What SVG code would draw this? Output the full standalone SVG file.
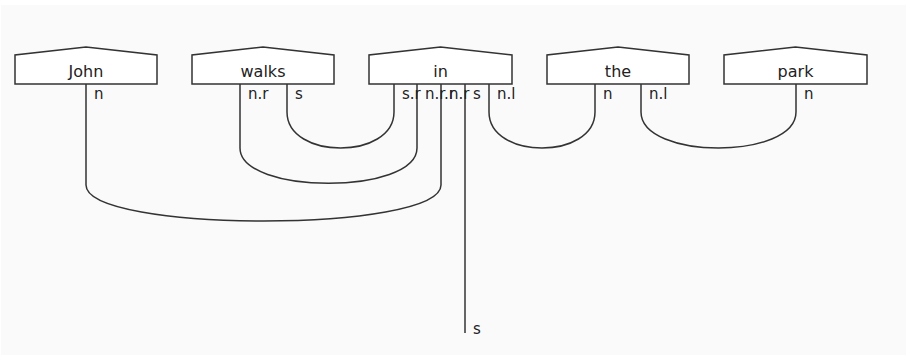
<svg xmlns="http://www.w3.org/2000/svg" width="906" height="355" viewBox="0 0 906 355">
<style>
.box{fill:#ffffff;stroke:#333;stroke-width:1.5;stroke-linejoin:miter}
.wire{fill:none;stroke:#333;stroke-width:1.5}
.name{font-family:"DejaVu Sans",sans-serif;font-size:16px;fill:#222;text-anchor:middle}
.lbl{font-family:"DejaVu Sans",sans-serif;font-size:15px;fill:#222}
</style>
<rect x="0" y="0" width="906" height="355" fill="#ffffff"/>
<rect x="1" y="5" width="905" height="350" fill="#fafafa"/>
<g id="connectors">
<path class="wire" d="M86,84 V185 C86,233 441,233 441,185 V84"/>
<path class="wire" d="M240,84 V148 C240,195 417,195 417,148 V84"/>
<path class="wire" d="M287,84 V112 C287,160 394,160 394,112 V84"/>
<path class="wire" d="M489,84 V112 C489,160 595,160 595,112 V84"/>
<path class="wire" d="M641,84 V112 C641,160 796,160 796,112 V84"/>
<path class="wire" d="M465,84 V333"/>
<text class="lbl" x="94" y="99">n</text>
<text class="lbl" x="248" y="99">n.r</text>
<text class="lbl" x="295" y="99">s</text>
<text class="lbl" x="402" y="99">s.r</text>
<text class="lbl" x="425" y="99">n.r.r</text>
<text class="lbl" x="449" y="99">n.r</text>
<text class="lbl" x="473" y="99">s</text>
<text class="lbl" x="497" y="99">n.l</text>
<text class="lbl" x="603" y="99">n</text>
<text class="lbl" x="649" y="99">n.l</text>
<text class="lbl" x="804" y="99">n</text>
<text class="lbl" x="473" y="334">s</text>
</g>
<g id="john">
<polygon class="box" points="15,84 15,55 86,47 157,55 157,84"/>
<text class="name" x="86" y="77">John</text>
</g>
<g id="walks">
<polygon class="box" points="192,84 192,55 263,47 334,55 334,84"/>
<text class="name" x="263" y="77">walks</text>
</g>
<g id="in">
<polygon class="box" points="369,84 369,55 440.5,47 512,55 512,84"/>
<text class="name" x="440.5" y="77">in</text>
</g>
<g id="the">
<polygon class="box" points="547,84 547,55 618,47 689,55 689,84"/>
<text class="name" x="618" y="77">the</text>
</g>
<g id="park">
<polygon class="box" points="724,84 724,55 795.5,47 867,55 867,84"/>
<text class="name" x="795.5" y="77">park</text>
</g>
</svg>
